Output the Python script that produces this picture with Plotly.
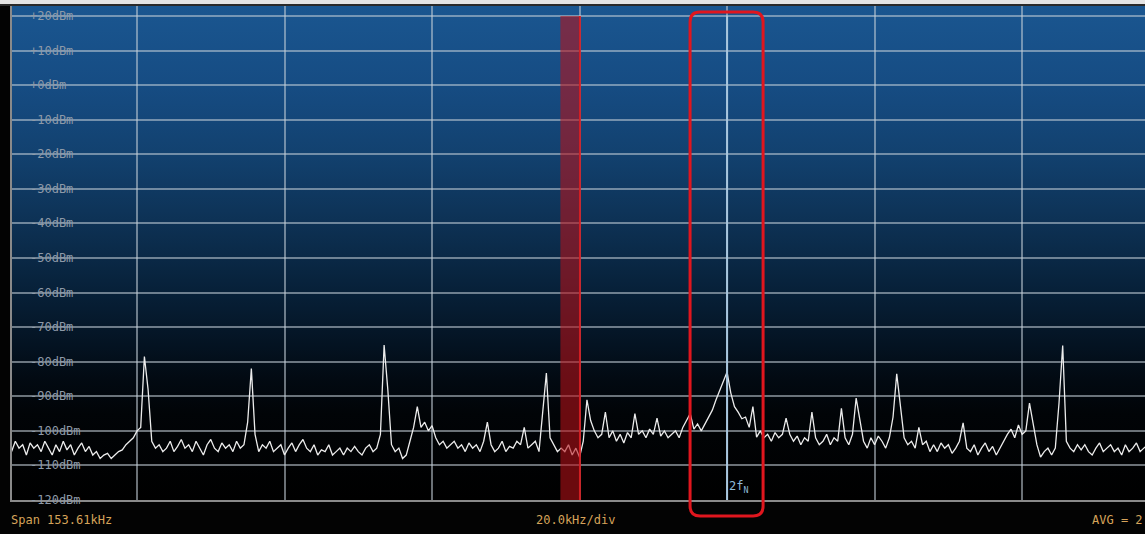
import base64
import plotly.graph_objects as go

# ---- spectrum data -------------------------------------------------------
# Frequency bins (kHz) start at F_START and step by F_STEP; levels in dBm.
F_START = 3.0
F_STEP = 0.5
levels_dbm = [
    # 3.0 - 7.5 kHz
    -106, -103, -105, -104, -107, -103.5, -105, -104, -106, -103,
    # 8.0 - 12.5
    -105, -107, -104, -106, -103, -105.5, -104, -107, -105, -103.5,
    # 13.0 - 17.5
    -106, -104.5, -107, -106, -108, -107, -106.5, -108, -107, -106,
    # 18.0 - 22.5
    -105.5, -104, -103, -102, -100, -99, -78.5, -88, -103, -105,
    # 23.0 - 27.5
    -104, -106, -105, -103, -106, -104.5, -102.5, -105, -104, -106,
    # 28.0 - 32.5
    -103, -105, -107, -104, -102.5, -105, -106, -103.5, -105, -104,
    # 33.0 - 37.5
    -106, -103, -105, -104, -97.5, -82, -101, -106, -104, -105,
    # 38.0 - 42.5
    -103, -106, -105, -104, -107, -105, -103.5, -106, -104, -102.5,
    # 43.0 - 47.5
    -105, -106, -104, -107, -105.5, -106, -104, -107, -106, -105,
    # 48.0 - 52.5
    -107, -105, -106, -104.5, -106, -107, -105, -104, -106, -105,
    # 53.0 - 57.5
    -101, -75.2, -88, -104, -106, -105, -108, -107, -103, -99,
    # 58.0 - 62.5
    -93, -99, -97.5, -100, -98.5, -102, -104, -103, -105, -104,
    # 63.0 - 67.5
    -103, -105, -104, -106, -103.5, -105, -104, -106, -103, -97.5,
    # 68.0 - 72.5
    -104, -106, -105, -103, -106, -104.5, -105, -103, -104, -99,
    # 73.0 - 77.5
    -105, -104, -103, -106, -95, -83.3, -102, -104, -106, -105,
    # 78.0 - 82.5
    -106, -104, -107, -105, -107.6, -103, -91, -97, -100, -102,
    # 83.0 - 87.5
    -101, -94.6, -102, -100, -103, -101, -103.5, -100.5, -102, -95,
    # 88.0 - 92.5
    -101, -100, -102, -99.5, -101, -96.3, -101.5, -100, -102, -101,
    # 93.0 - 97.5
    -100, -102, -99, -97, -95, -99.5, -98, -100, -98, -96,
    # 98.0 - 102.5
    -94, -91, -88.5, -86, -83, -89, -93, -94.6, -96.5, -96,
    # 103.0 - 107.5
    -99, -93, -101.8, -100, -102, -101, -103, -100.5, -102, -101,
    # 108.0 - 112.5
    -96.3, -101, -103, -101.5, -104, -102, -103, -94.6, -102, -104,
    # 113.0 - 117.5
    -103, -101, -104, -102, -103, -93.5, -102, -104, -101, -90.5,
    # 118.0 - 122.5
    -97, -103, -105, -102, -104, -101.5, -103, -105, -102, -96,
    # 123.0 - 127.5
    -83.5, -93, -102, -104, -103, -105, -99, -104, -103, -106,
    # 128.0 - 132.5
    -104, -106, -103.5, -105, -104, -106.5, -105, -103, -97.7, -105,
    # 133.0 - 137.5
    -106, -104, -107, -105, -103.5, -106, -104.5, -107, -105, -103,
    # 138.0 - 142.5
    -101, -99.5, -102, -98.3, -101, -100, -92, -98, -104, -107.6,
    # 143.0 - 147.5
    -106, -105, -107, -105, -92, -75.3, -103, -105, -106, -104,
    # 148.0 - 152.5
    -105.5, -104, -106, -107, -105, -103.5, -106, -105, -104, -106,
    # 153.0 - 157.5
    -105, -107, -104, -106, -105, -103.5, -106, -105, -104, -106,
]
freq_khz = [F_START + F_STEP * i for i in range(len(levels_dbm))]

# display settings
span_khz = 153.61
x_left = 3.05
x_range = [x_left, x_left + span_khz]
y_range = [-120, 22.9]
ref_levels = list(range(20, -130, -10))
marker_2fn = 100.0            # 2 f_N marker frequency (kHz)
band_khz = [77.4, 80.05]      # highlighted band
box_khz = [94.98, 104.88]     # highlighted region around 2 f_N

bottom_labels = ["Span 153.61kHz", "20.0kHz/div", "AVG = 2"]

W, H = 1145, 534
M_L, M_R, M_T, M_B = 12, 0, 6, 34
plot_h = H - M_T - M_B

# ---- vertical background gradient as an SVG image -----------------------
grad_stops = [
    (22.9, "#1a5690"), (0, "#164c83"), (-20, "#12416f"), (-40, "#0d3154"),
    (-60, "#072038"), (-75, "#041322"), (-85, "#020a12"), (-95, "#010407"),
    (-120, "#000000"),
]
span_db = y_range[1] - y_range[0]
stops_svg = "".join(
    f'<stop offset="{(y_range[1] - db) / span_db:.4f}" stop-color="{c}"/>'
    for db, c in grad_stops
)
svg = (
    '<svg xmlns="http://www.w3.org/2000/svg" width="100" height="100" '
    'viewBox="0 0 100 100" preserveAspectRatio="none">'
    '<defs><linearGradient id="g" x1="0" y1="0" x2="0" y2="1">'
    f"{stops_svg}</linearGradient></defs>"
    '<rect width="100" height="100" fill="url(#g)"/></svg>'
)
bg_src = "data:image/svg+xml;base64," + base64.b64encode(svg.encode()).decode()

fig = go.Figure()
fig.add_trace(go.Scatter(
    x=freq_khz, y=levels_dbm, mode="lines",
    line=dict(color="#ececec", width=1.3),
    hoverinfo="skip", showlegend=False,
))

grid_col = "rgba(195,205,215,0.55)"
mono = "DejaVu Sans Mono"

fig.update_layout(
    width=W, height=H,
    margin=dict(l=M_L, r=M_R, t=M_T, b=M_B, pad=0),
    paper_bgcolor="#030303",
    plot_bgcolor="#000000",
    showlegend=False,
    hovermode=False,
    xaxis=dict(
        range=x_range, showticklabels=False, ticks="",
        showgrid=True, gridcolor=grid_col, gridwidth=1.5,
        tick0=0, dtick=20, zeroline=False,
        showline=True, linecolor="#8a8a8a", linewidth=1.5,
    ),
    yaxis=dict(
        range=y_range, showticklabels=False, ticks="",
        showgrid=True, gridcolor=grid_col, gridwidth=1.5,
        tick0=-120, dtick=10, zeroline=False,
        showline=True, linecolor="#8a8a8a", linewidth=1.5,
    ),
    images=[dict(
        source=bg_src, xref="paper", yref="paper", x=0, y=1,
        sizex=1, sizey=1, sizing="stretch", layer="below",
        xanchor="left", yanchor="top",
    )],
)

shapes = []
# light frame strip along the top edge
shapes.append(dict(type="rect", xref="paper", yref="paper",
                   x0=-0.02, x1=1.02, y0=1 + 2 / plot_h, y1=1 + 7 / plot_h,
                   fillcolor="#e4e4e4", line=dict(width=0), layer="above"))
shapes.append(dict(type="rect", xref="paper", yref="paper",
                   x0=-0.02, x1=1.02, y0=1, y1=1 + 2 / plot_h,
                   fillcolor="#2a2a2a", line=dict(width=0), layer="above"))

# highlighted band
shapes.append(dict(type="rect", xref="x", yref="y",
                   x0=band_khz[0], x1=band_khz[1], y0=-120, y1=20,
                   fillcolor="rgba(185,18,24,0.58)", line=dict(width=0),
                   layer="above"))
shapes.append(dict(type="line", xref="x", yref="y",
                   x0=band_khz[1], x1=band_khz[1], y0=-120, y1=20,
                   line=dict(color="rgba(215,25,30,0.9)", width=2),
                   layer="above"))

# 2 f_N marker line
shapes.append(dict(type="line", xref="x", yref="y",
                   x0=marker_2fn, x1=marker_2fn, y0=-120, y1=20,
                   line=dict(color="#a8c6de", width=2), layer="above"))

# rounded rectangle around the 2 f_N region
px_per_khz = (W - M_L - M_R) / span_khz
rx = 10 / px_per_khz
ry = 10 / plot_h
bx0, bx1 = box_khz
by0, by1 = -16 / plot_h, 488 / plot_h
box_path = (
    f"M {bx0 + rx},{by1} L {bx1 - rx},{by1} Q {bx1},{by1} {bx1},{by1 - ry} "
    f"L {bx1},{by0 + ry} Q {bx1},{by0} {bx1 - rx},{by0} "
    f"L {bx0 + rx},{by0} Q {bx0},{by0} {bx0},{by0 + ry} "
    f"L {bx0},{by1 - ry} Q {bx0},{by1} {bx0 + rx},{by1} Z"
)
shapes.append(dict(type="path", xref="x", yref="paper", path=box_path,
                   line=dict(color="#e0161e", width=3), layer="above"))
fig.update_layout(shapes=shapes)

annotations = []
for lv in ref_levels:
    txt = f"+{lv}dBm" if lv >= 0 else f"{lv}dBm"
    annotations.append(dict(
        x=0, xref="paper", y=lv, yref="y", xanchor="left", yanchor="middle",
        xshift=16, text=txt, showarrow=False,
        font=dict(family=mono, size=12, color="#8e9aa8"),
    ))

annotations.append(dict(
    x=marker_2fn, xref="x", y=-116.3, yref="y", xanchor="left",
    yanchor="middle", xshift=0, text="2f<sub>N</sub>", showarrow=False,
    font=dict(family=mono, size=12, color="#8fbad9"),
))

label_font = dict(family=mono, size=12, color="#d6a35a")
annotations.append(dict(x=0, xref="paper", y=0, yref="paper", xshift=-3,
                        yshift=-20, xanchor="left", yanchor="middle",
                        text=bottom_labels[0], showarrow=False,
                        font=label_font))
annotations.append(dict(x=(575 - M_L) / (W - M_L - M_R), xref="paper", y=0,
                        yref="paper", yshift=-20, xanchor="center",
                        yanchor="middle", text=bottom_labels[1],
                        showarrow=False, font=label_font))
annotations.append(dict(x=1, xref="paper", y=0, yref="paper", yshift=-20,
                        xanchor="right", yanchor="middle",
                        text=bottom_labels[2], showarrow=False,
                        font=label_font))
fig.update_layout(annotations=annotations)

fig.write_html("out.html")
